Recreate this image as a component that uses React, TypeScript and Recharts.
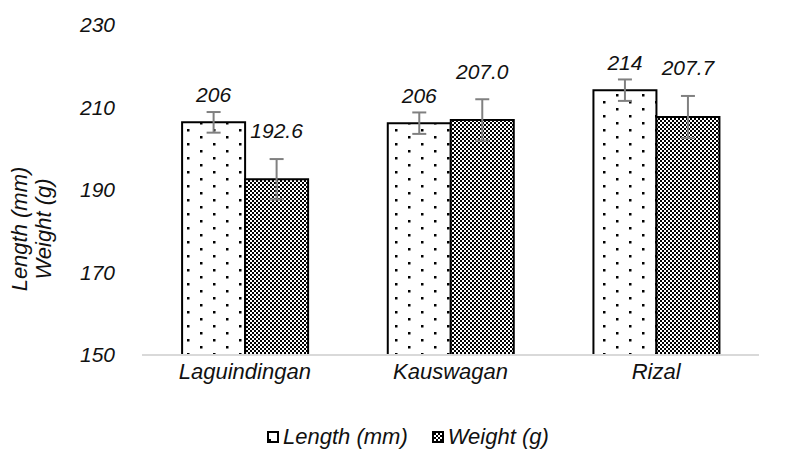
import { Bar, BarChart, ErrorBar, LabelList, Legend, XAxis, YAxis } from "recharts";

const sites = ["Laguindingan", "Kauswagan", "Rizal"];
const lengthMm = [206.4, 206.2, 214.2];
const lengthErr = [2.5, 2.6, 2.6];
const weightG = [192.6, 207.0, 207.7];
const weightErr = [4.9, 5.0, 5.1];
const yTicks = [150, 170, 190, 210, 230];

const data = sites.map((site, i) => ({
  site,
  length: lengthMm[i],
  lengthErr: lengthErr[i],
  weight: weightG[i],
  weightErr: weightErr[i],
}));

const font = "'Liberation Sans', Arial, sans-serif";
const ink = "#111";

function valueLabel(errs: number[], digits: number, lift: number) {
  return (props: any) => {
    const { x, y, width, height, value, index } = props;
    const perUnit = height / (value - 150);
    const top = y - errs[index] * perUnit - lift;
    return (
      <text
        x={x + width / 2}
        y={top}
        dy="0.35em"
        textAnchor="middle"
        fontFamily={font}
        fontStyle="italic"
        fontSize={21}
        fill={ink}
      >
        {Number(value).toFixed(digits)}
      </text>
    );
  };
}

function AxisTitle() {
  return (
    <g fontFamily={font} fontStyle="italic" fontSize={22} fill={ink}>
      <text transform="translate(27,229) rotate(-90)" textAnchor="middle">
        Length (mm)
      </text>
      <text transform="translate(51,229) rotate(-90)" textAnchor="middle">
        Weight (g)
      </text>
    </g>
  );
}

function LegendBox() {
  const item = { display: "flex", alignItems: "center", gap: 4 };
  return (
    <div
      style={{
        display: "flex",
        gap: 24,
        paddingLeft: 267,
        fontFamily: font,
        fontStyle: "italic",
        fontSize: 22,
        color: ink,
      }}
    >
      <span style={item}>
        <svg width={12} height={12}>
          <rect x={1} y={1} width={10} height={10} fill="#fff" stroke="#000" strokeWidth={2} />
          <rect x={2} y={8} width={2} height={2} fill="#000" />
        </svg>
        Length (mm)
      </span>
      <span style={item}>
        <svg width={12} height={12}>
          <rect x={1} y={1} width={10} height={10} fill="url(#checkLegend)" stroke="#000" strokeWidth={2} />
          <defs>
            <pattern id="checkLegend" width={4} height={4} patternUnits="userSpaceOnUse">
              <rect width={4} height={4} fill="#fff" />
              <rect width={2} height={2} fill="#000" />
              <rect x={2} y={2} width={2} height={2} fill="#000" />
            </pattern>
          </defs>
        </svg>
        Weight (g)
      </span>
    </div>
  );
}

export default function App() {
  return (
    <div style={{ position: "absolute", left: 0, top: 0, background: "#fff" }}>
      <BarChart
        width={785}
        height={454}
        data={data}
        margin={{ top: 25, right: 26, bottom: 69, left: 0 }}
        barCategoryGap="19.5%"
        barGap={0}
      >
        <defs>
          <pattern id="dots" width={26} height={14} patternUnits="userSpaceOnUse">
            <rect width={26} height={14} fill="#fff" />
            <rect x={5} y={3} width={2.5} height={2.5} fill="#000" />
            <rect x={18} y={10} width={2.5} height={2.5} fill="#000" />
          </pattern>
          <pattern id="check" width={4} height={4} patternUnits="userSpaceOnUse">
            <rect width={4} height={4} fill="#fff" />
            <rect width={2} height={2} fill="#000" />
            <rect x={2} y={2} width={2} height={2} fill="#000" />
          </pattern>
        </defs>
        <XAxis
          dataKey="site"
          height={30}
          axisLine={{ stroke: "#d9d9d9", strokeWidth: 2 }}
          tickLine={false}
          tickSize={0}
          tickMargin={8}
          tick={{ fill: ink, fontSize: 22, fontStyle: "italic", fontFamily: font }}
        />
        <YAxis
          domain={[150, 230]}
          ticks={yTicks}
          width={142}
          axisLine={false}
          tickLine={false}
          tickSize={0}
          tickMargin={27}
          tick={{ fill: ink, fontSize: 21, fontStyle: "italic", fontFamily: font }}
          label={{ content: () => <AxisTitle /> }}
        />
        <Legend
          verticalAlign="middle"
          wrapperStyle={{ top: 424, left: 0, width: 785 }}
          content={() => <LegendBox />}
        />
        <Bar
          dataKey="length"
          name="Length (mm)"
          fill="url(#dots)"
          stroke="#000"
          strokeWidth={2}
          isAnimationActive={false}
        >
          <ErrorBar dataKey="lengthErr" width={7} strokeWidth={2} stroke="#808080" direction="y" />
          <LabelList dataKey="length" content={valueLabel(lengthErr, 0, 17)} />
        </Bar>
        <Bar
          dataKey="weight"
          name="Weight (g)"
          fill="url(#check)"
          stroke="#000"
          strokeWidth={2}
          isAnimationActive={false}
        >
          <ErrorBar dataKey="weightErr" width={7} strokeWidth={2} stroke="#808080" direction="y" />
          <LabelList dataKey="weight" content={valueLabel(weightErr, 1, 28)} />
        </Bar>
      </BarChart>
    </div>
  );
}
